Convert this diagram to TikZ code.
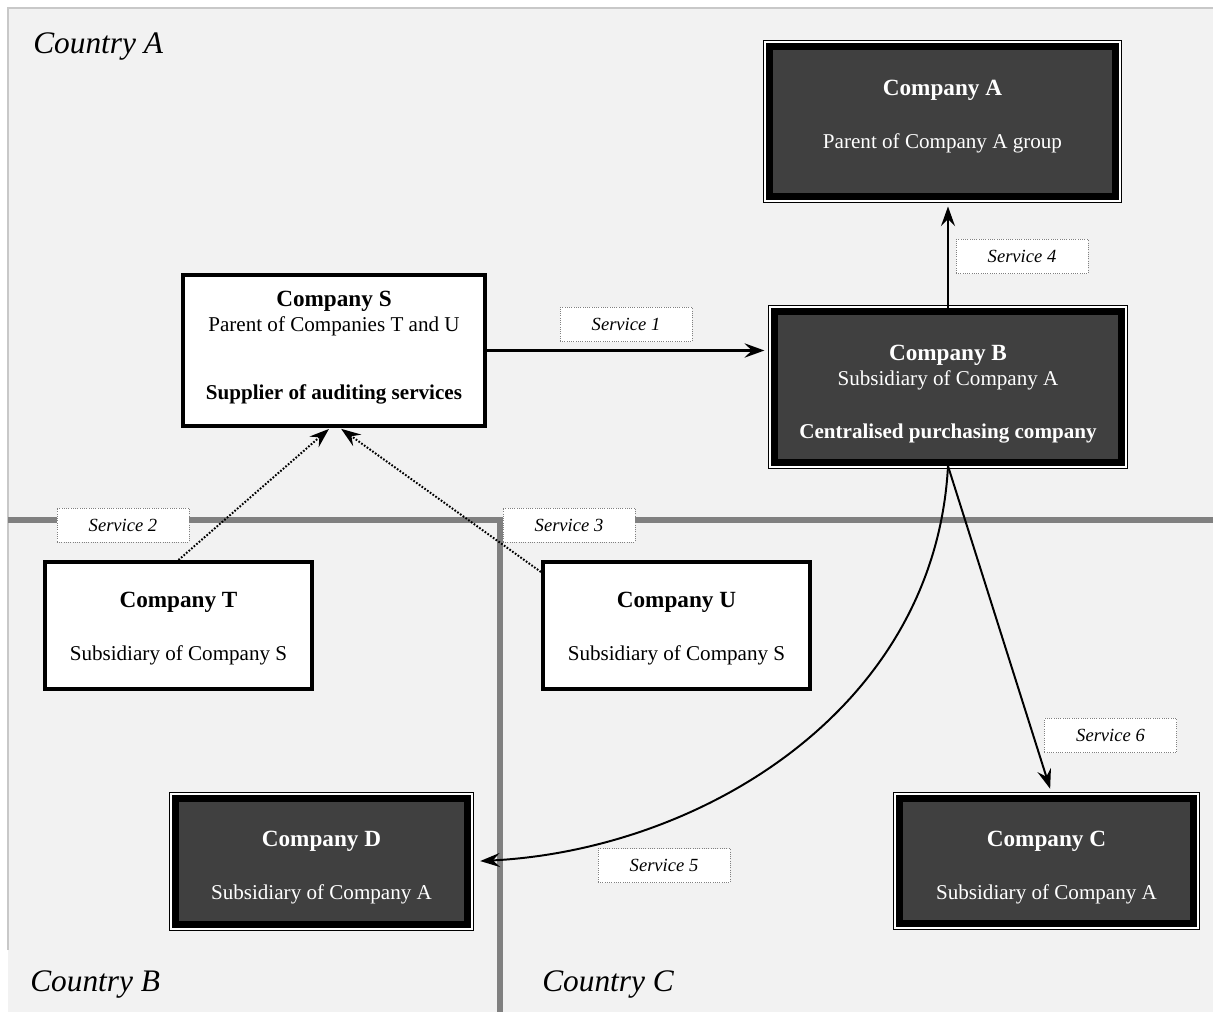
\documentclass[tikz,border=0pt]{standalone}
\usepackage{fontspec}
\setmainfont{Liberation Serif}
\usetikzlibrary{arrows.meta}
\definecolor{bggray}{HTML}{F2F2F2}
\definecolor{edgegray}{HTML}{C8C8C8}
\definecolor{linegray}{HTML}{808080}
\definecolor{boxfill}{HTML}{404040}
\newcommand{\coname}[1]{{\fontsize{16.5}{18}\selectfont\bfseries #1}}
\begin{document}
\begin{tikzpicture}[x=0.025cm, y=-0.025cm,
        darkbox/.style={preaction={draw=black, line width=9.25pt}, preaction={draw=white, line width=7.8pt},
            draw=black, line width=5pt, fill=boxfill, text=white, align=center, inner sep=0pt,
            font=\fontsize{15}{18}\selectfont},
        whitebox/.style={draw=black, line width=2.85pt, fill=white, align=center, inner sep=0pt,
            font=\fontsize{15}{18}\selectfont},
        service/.style={draw=linegray, densely dotted, line width=0.6pt, fill=white, inner sep=0pt,
            minimum width=3.3cm, minimum height=0.85cm, font=\fontsize{13.2}{15}\selectfont\itshape},
        country/.style={anchor=base west, inner sep=0pt, font=\fontsize{22.3}{26}\selectfont\itshape},
        flow/.style={-{Stealth[length=14pt, width=10pt, inset=5pt]}, line width=1.4pt},
        dots/.style={flow, dash pattern=on 1.2pt off 1.2pt, shorten >=1pt}]

    \useasboundingbox (0,0) rectangle (1213,1012);
    \fill[bggray] (8,8) rectangle (1213,1012);
    \draw[edgegray, line width=1.4pt] (8,950) -- (8,8) -- (1213,8);
    \draw[linegray, line width=4.3pt] (8,520) -- (1213,520);
    \draw[linegray, line width=4.3pt] (500,520) -- (500,1012);

    \node[country] (ca) at (33,54) {Country A};
    \node[country] (cb) at (30,991) {Country B};
    \node[country] (cc) at (542,991) {Country C};

    \node[darkbox, minimum width=8.65cm, minimum height=3.75cm, text depth=10.4pt] (A) at (942.5,121.5)
        {\coname{Company A}\\[19.7pt] Parent of Company A group};
    \node[darkbox, minimum width=8.675cm, minimum height=3.775cm, text height=76.9pt] (B) at (948,387)
        {\coname{Company B}\\ Subsidiary of Company A\\[19.7pt] \textbf{Centralised purchasing company}};
    \node[darkbox, minimum width=7.35cm, minimum height=3.125cm, text height=57.4pt] (C) at (1046.5,861)
        {\coname{Company C}\\[19.7pt] Subsidiary of Company A};
    \node[darkbox, minimum width=7.3cm, minimum height=3.15cm, text height=57.4pt] (D) at (321.5,861.5)
        {\coname{Company D}\\[19.7pt] Subsidiary of Company A};
    \node[whitebox, minimum width=7.55cm, minimum height=3.775cm, text depth=7.6pt] (S) at (334,350.5)
        {\coname{Company S}\\ Parent of Companies T and U\\[30.4pt] \textbf{Supplier of auditing services}};
    \node[whitebox, minimum width=6.675cm, minimum height=3.175cm, text height=53.2pt] (T) at (178.5,625.5)
        {\coname{Company T}\\[19.7pt] Subsidiary of Company S};
    \node[whitebox, minimum width=6.675cm, minimum height=3.175cm, text height=53.2pt] (U) at (676.5,625.5)
        {\coname{Company U}\\[19.7pt] Subsidiary of Company S};

    \draw[flow, line width=2.5pt, shorten >=4.6pt] (S.east) -- (S.east -| B.west);
    \draw[flow, shorten >=4.6pt] (B.north) -- (B.north |- A.south);
    \draw[flow, shorten >=6.5pt] (B.south) .. controls (935,710) and (700,850) .. (D.east);
    \draw[flow, shorten >=4.6pt] (B.south) -- ([xshift=0.14cm]C.north);
    \draw[dots] (T.north) -- ([xshift=-0.1cm]S.south);
    \draw[dots] ([yshift=-0.3cm]U.north west) -- ([xshift=0.15cm]S.south);

    \node[service] (s1) at (626,324.5) {Service 1};
    \node[service] (s2) at (123,525) {Service 2};
    \node[service] (s3) at (569,525) {Service 3};
    \node[service] (s4) at (1022,256.5) {Service 4};
    \node[service] (s5) at (664,865.5) {Service 5};
    \node[service] (s6) at (1110.5,735.5) {Service 6};

\end{tikzpicture}
\end{document}
